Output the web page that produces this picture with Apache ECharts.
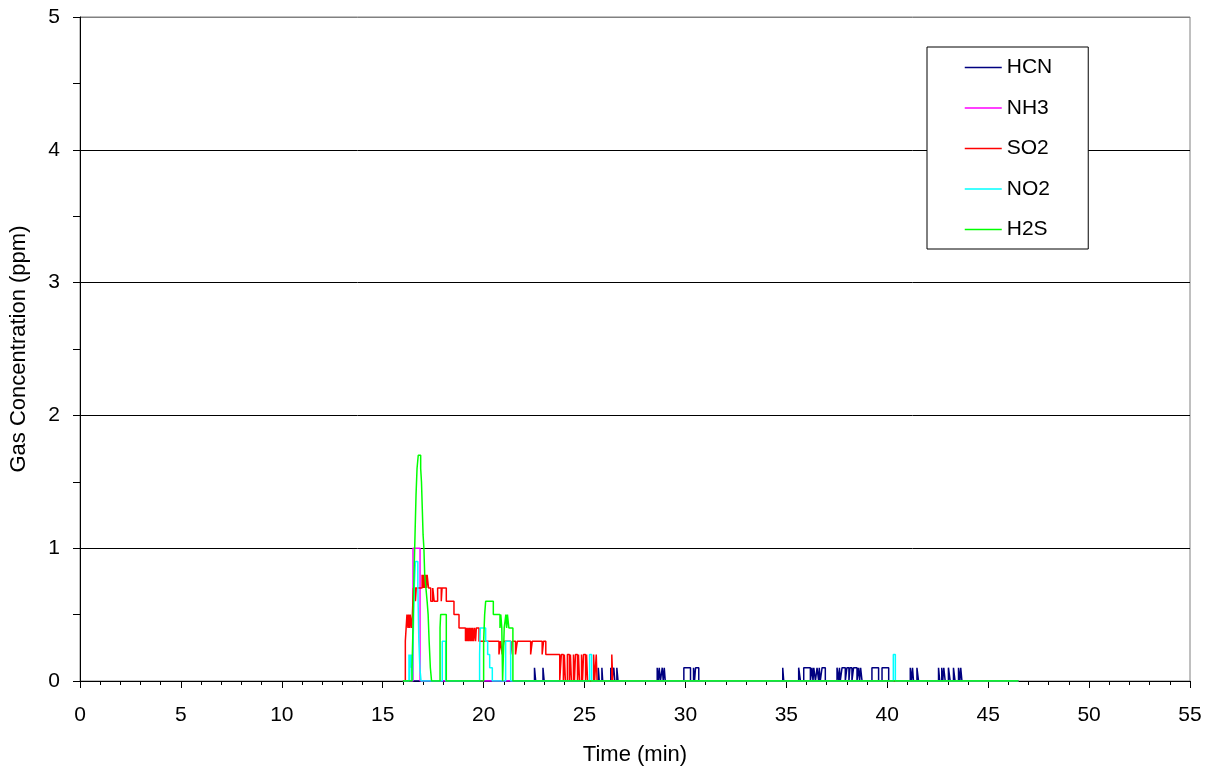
<!DOCTYPE html>
<html>
<head>
<meta charset="utf-8">
<script src="https://cdn.jsdelivr.net/npm/echarts@6/dist/echarts.min.js"></script>
<style>
  html, body { margin: 0; padding: 0; background: #fff; }
  #chart { width: 1215px; height: 775px; }
</style>
</head>
<body>
<div id="chart"></div>
<script>
// gas concentration readings, [time (min), ppm]; each value holds until the next point
const names = ['HCN', 'NH3', 'SO2', 'NO2', 'H2S'];
const colors = ['#000080', '#ff00ff', '#ff0000', '#00ffff', '#00ff00'];

const hcn = [
  [16.0, 0],
  [22.52, 0.1], [22.58, 0], [22.94, 0.1], [23.0, 0],
  [25.68, 0.1], [25.73, 0], [25.86, 0.1], [25.9, 0],
  [26.3, 0.1], [26.36, 0], [26.45, 0.1], [26.5, 0], [26.6, 0.1], [26.66, 0],
  [28.6, 0.1], [28.66, 0], [28.7, 0.1], [28.76, 0], [28.85, 0.1], [28.9, 0], [28.95, 0.1], [29.0, 0],
  [29.92, 0.1], [30.25, 0], [30.4, 0.1], [30.45, 0], [30.5, 0.1], [30.66, 0],
  [34.82, 0.1], [34.87, 0],
  [35.61, 0.1], [35.7, 0], [35.86, 0.1], [36.19, 0],
  [36.27, 0.1], [36.32, 0], [36.36, 0.1], [36.44, 0],
  [36.52, 0.1], [36.6, 0], [36.63, 0.1], [36.68, 0], [36.77, 0.1], [36.93, 0],
  [37.51, 0.1], [37.6, 0], [37.63, 0.1], [37.67, 0], [37.76, 0.1], [37.92, 0],
  [38.0, 0.1], [38.1, 0], [38.15, 0.1], [38.25, 0], [38.33, 0.1], [38.5, 0],
  [38.58, 0.1], [38.63, 0], [38.68, 0.1], [38.75, 0],
  [39.24, 0.1], [39.57, 0], [39.74, 0.1], [40.07, 0],
  [41.14, 0.1], [41.2, 0], [41.25, 0.1], [41.3, 0], [41.47, 0.1], [41.55, 0],
  [42.54, 0.1], [42.6, 0], [42.7, 0.1], [42.75, 0], [42.8, 0.1], [42.87, 0],
  [43.03, 0.1], [43.12, 0], [43.28, 0.1], [43.36, 0],
  [43.53, 0.1], [43.6, 0], [43.64, 0.1], [43.7, 0],
  [46.5, 0]
];

const nh3 = [[16.0, 0], [16.5, 1.0], [16.85, 0], [46.5, 0]];

const so2 = [
  [16.0, 0], [16.12, 0.3], [16.2, 0.5], [16.25, 0.4], [16.28, 0.5], [16.33, 0.4], [16.36, 0.5],
  [16.42, 0.4], [16.47, 0.5], [16.52, 0.7], [16.62, 0.6], [16.66, 0.7],
  [16.95, 0.8], [16.98, 0.7], [17.01, 0.8], [17.04, 0.7], [17.07, 0.8], [17.1, 0.7],
  [17.13, 0.8], [17.17, 0.7], [17.2, 0.8], [17.27, 0.7], [17.38, 0.6], [17.48, 0.7],
  [17.55, 0.6], [17.72, 0.7], [17.9, 0.6], [17.94, 0.7], [18.15, 0.6], [18.53, 0.5],
  [18.78, 0.4], [19.1, 0.3], [19.14, 0.4], [19.18, 0.3], [19.22, 0.4], [19.26, 0.3],
  [19.3, 0.4], [19.34, 0.3], [19.38, 0.4], [19.42, 0.3], [19.46, 0.4], [19.5, 0.3],
  [19.55, 0.4], [19.6, 0.3], [19.64, 0.4], [19.77, 0.3],
  [20.76, 0.2], [20.84, 0.3], [20.92, 0.2], [21.0, 0.3], [21.34, 0.2], [21.42, 0.3],
  [21.58, 0.2], [21.67, 0.3], [22.33, 0.2], [22.41, 0.3], [22.9, 0.2], [22.97, 0.3],
  [23.08, 0.2], [23.77, 0], [23.85, 0.2], [23.95, 0], [24.0, 0.2], [24.05, 0],
  [24.15, 0.2], [24.25, 0], [24.3, 0.2], [24.35, 0], [24.45, 0.2], [24.5, 0],
  [24.55, 0.2], [24.65, 0], [24.7, 0.2], [24.75, 0], [24.85, 0.2], [24.9, 0],
  [24.95, 0.2], [25.05, 0], [25.1, 0.2], [25.15, 0], [25.45, 0.2], [25.5, 0],
  [25.58, 0.2], [25.62, 0], [26.35, 0.2], [26.4, 0], [46.5, 0]
];

const no2 = [
  [16.0, 0], [16.3, 0.2], [16.33, 0], [16.36, 0.2], [16.4, 0.1], [16.43, 0.2], [16.47, 0],
  [16.52, 0.4], [16.56, 0.7], [16.62, 0.9], [16.74, 0.7], [16.79, 0.3], [16.84, 0.1], [16.9, 0],
  [17.95, 0.3], [18.12, 0],
  [19.8, 0.2], [19.83, 0.4], [20.1, 0.3], [20.2, 0.2], [20.3, 0.1], [20.43, 0],
  [21.09, 0.3], [21.34, 0],
  [25.25, 0.2], [25.35, 0],
  [40.3, 0.2], [40.4, 0],
  [46.5, 0]
];

const h2s = [
  [16.0, 0], [16.45, 0.1], [16.5, 0.4], [16.55, 0.8], [16.6, 1.1], [16.65, 1.4], [16.7, 1.6],
  [16.76, 1.7], [16.88, 1.6], [16.92, 1.5], [16.96, 1.3], [17.0, 1.1], [17.04, 1.0],
  [17.08, 0.8], [17.14, 0.7], [17.2, 0.6], [17.25, 0.5], [17.3, 0.3], [17.36, 0.1], [17.42, 0],
  [17.84, 0.4], [17.87, 0.5], [18.15, 0],
  [20.0, 0.3], [20.05, 0.5], [20.1, 0.6], [20.48, 0.5], [20.81, 0.4], [20.85, 0.5],
  [20.9, 0.4], [20.94, 0], [21.02, 0.4], [21.1, 0.5], [21.14, 0.4], [21.18, 0.5],
  [21.25, 0.4], [21.45, 0], [46.5, 0]
];

const seriesData = [hcn, nh3, so2, no2, h2s];

const FONT = '"Liberation Sans", Arial, sans-serif';
const chart = echarts.init(document.getElementById('chart'));

chart.setOption({
  animation: false,
  backgroundColor: '#fff',
  grid: {
    left: 79, right: 25, top: 17, bottom: 94,
    show: true, borderColor: '#808080', borderWidth: 1,
  },
  legend: {
    orient: 'vertical',
    left: 927, top: 47,
    data: names,
    backgroundColor: '#fff',
    borderColor: '#000', borderWidth: 1,
    padding: [10, 36, 9, 37],
    itemWidth: 37, itemHeight: 20, itemGap: 19.5,
    itemStyle: { opacity: 0 },
    lineStyle: { width: 1.5 },
    textStyle: { fontFamily: FONT, fontSize: 21, color: '#000' },
  },
  xAxis: {
    type: 'value', min: 0, max: 55, interval: 5,
    name: 'Time (min)', nameLocation: 'middle', nameGap: 63,
    nameTextStyle: { fontFamily: FONT, fontSize: 22, color: '#000' },
    axisLine: { onZero: false, lineStyle: { color: '#000', width: 1 } },
    axisTick: { length: 7, lineStyle: { color: '#000' } },
    minorTick: { show: true, splitNumber: 5, length: 4, lineStyle: { color: '#000' } },
    axisLabel: { margin: 24, fontFamily: FONT, fontSize: 21, color: '#000' },
    splitLine: { show: false },
  },
  yAxis: {
    type: 'value', min: 0, max: 5, interval: 1,
    name: 'Gas Concentration (ppm)', nameLocation: 'middle', nameGap: 50,
    nameTextStyle: { fontFamily: FONT, fontSize: 22, color: '#000' },
    axisLine: { show: true, lineStyle: { color: '#000', width: 1 } },
    axisTick: { show: true, length: 7, lineStyle: { color: '#000' } },
    minorTick: { show: true, splitNumber: 2, length: 7, lineStyle: { color: '#000' } },
    axisLabel: { margin: 20, fontFamily: FONT, fontSize: 21, color: '#000' },
    splitLine: {
      show: true,
      lineStyle: { color: ['#000', '#000', '#000', '#000', '#000', '#808080'], width: 1 },
    },
  },
  series: names.map((n, i) => ({
    name: n,
    type: 'line',
    step: 'end',
    symbol: 'none',
    color: colors[i],
    lineStyle: { color: colors[i], width: 1.5 },
    data: seriesData[i],
  })),
});
</script>
</body>
</html>
